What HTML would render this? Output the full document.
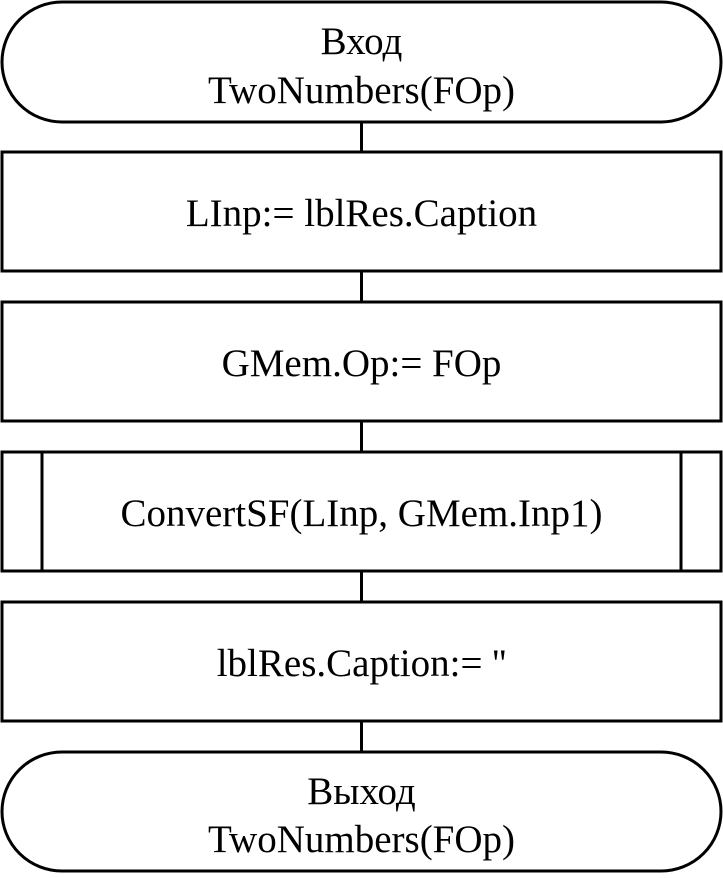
<!DOCTYPE html>
<html><head><meta charset="utf-8"><style>
html,body{margin:0;padding:0;background:#fff;}
svg text{font-family:"Liberation Serif","DejaVu Serif",serif;font-size:39px;fill:#000;text-anchor:middle;}
</style></head><body>
<svg width="723" height="873" viewBox="0 0 723 873" xmlns="http://www.w3.org/2000/svg">
<g fill="none" stroke="#000" stroke-width="3">
<rect x="2" y="2" width="719" height="120" rx="60" ry="60"/>
<line x1="361.5" y1="122" x2="361.5" y2="152"/>
<rect x="2" y="152" width="719" height="119"/>
<line x1="361.5" y1="271" x2="361.5" y2="302"/>
<rect x="2" y="302" width="719" height="119"/>
<line x1="361.5" y1="421" x2="361.5" y2="452"/>
<rect x="2" y="452" width="719" height="119"/>
<line x1="42" y1="452" x2="42" y2="571"/>
<line x1="681" y1="452" x2="681" y2="571"/>
<line x1="361.5" y1="571" x2="361.5" y2="602"/>
<rect x="2" y="602" width="719" height="119"/>
<line x1="361.5" y1="721" x2="361.5" y2="752"/>
<rect x="2" y="752" width="719" height="119" rx="60" ry="60"/>
</g>
<text x="361.5" y="54">Вход</text>
<text x="361.5" y="103">TwoNumbers(FOp)</text>
<text x="361.5" y="226">LInp:= lblRes.Caption</text>
<text x="361.5" y="376">GMem.Op:= FOp</text>
<text x="361.5" y="526">ConvertSF(LInp, GMem.Inp1)</text>
<text x="361.5" y="676">lblRes.Caption:= ''</text>
<text x="361.5" y="804">Выход</text>
<text x="361.5" y="852">TwoNumbers(FOp)</text>
</svg>
</body></html>
